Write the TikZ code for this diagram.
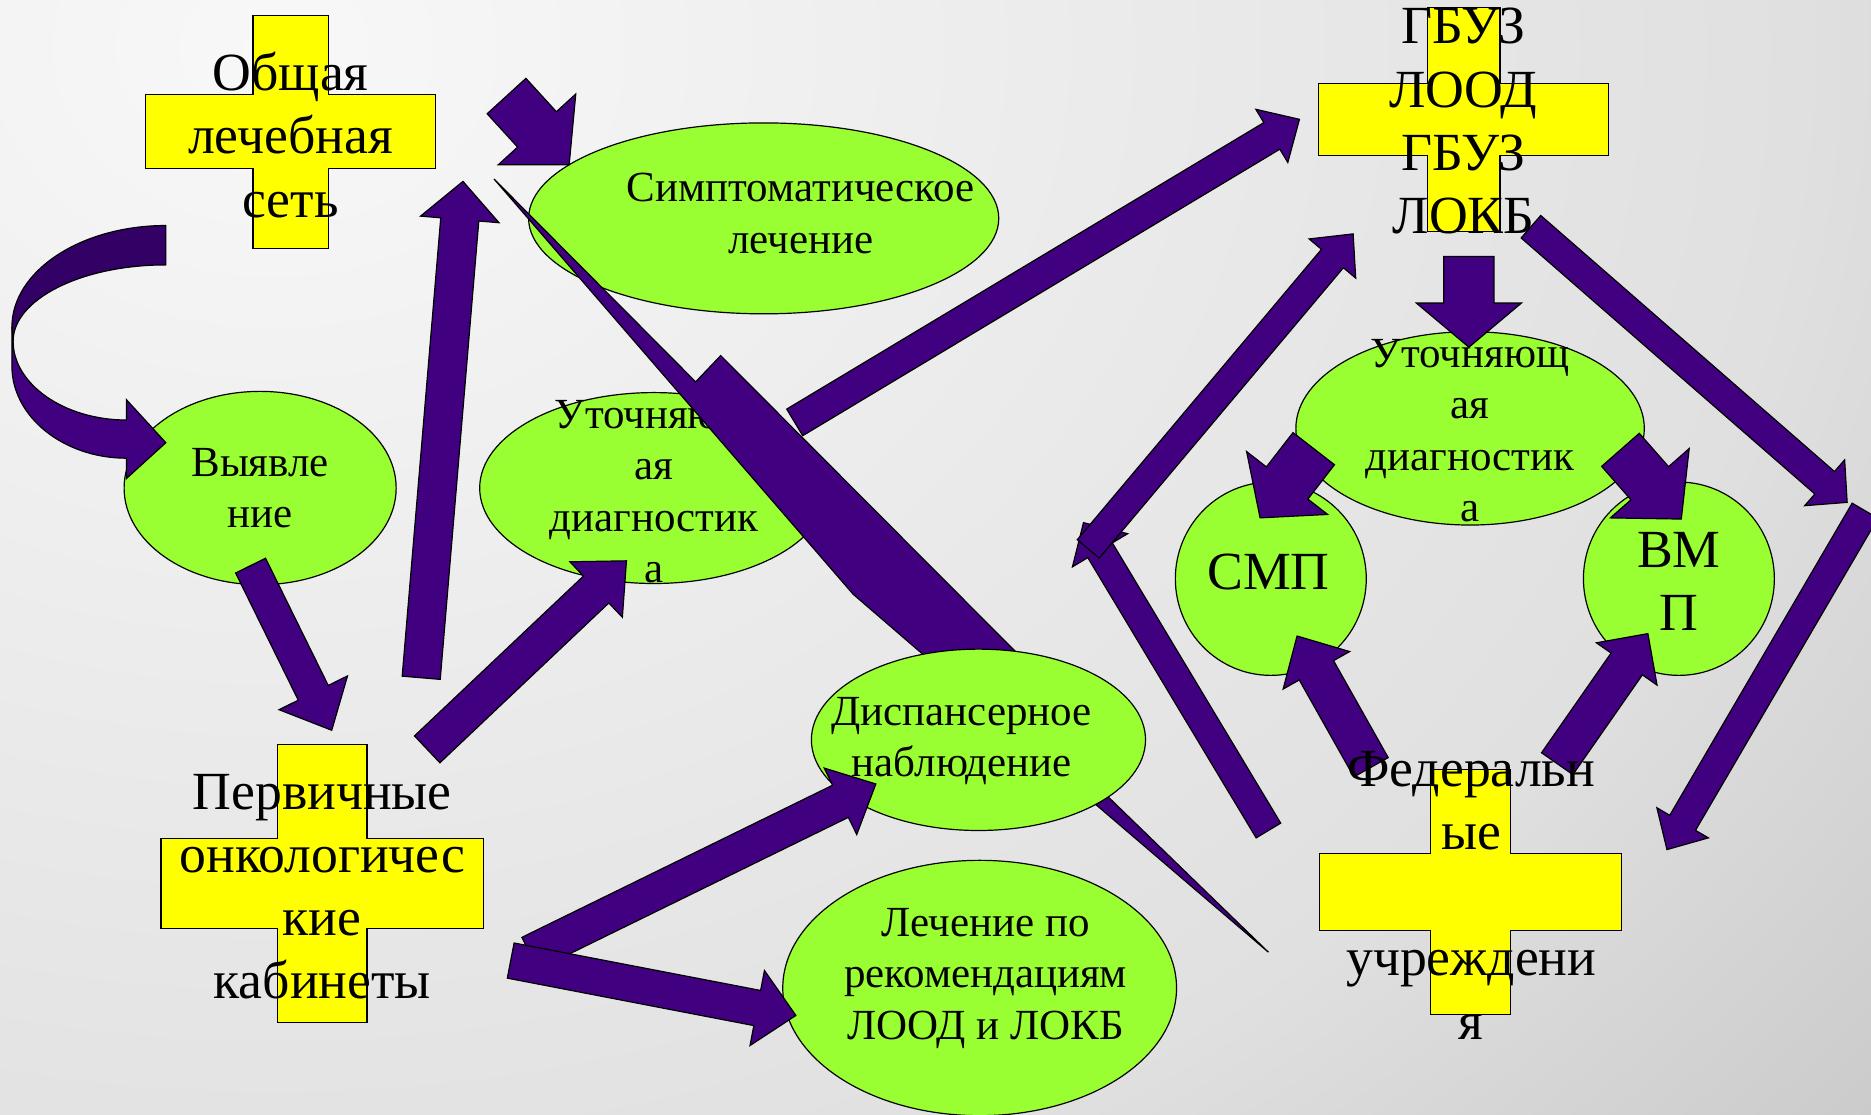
\documentclass[tikz,border=0pt]{standalone}
\usepackage{fontspec}
\setmainfont{Liberation Serif}
\newfontfamily\slidefont{Liberation Serif}
\usetikzlibrary{calc,shapes.geometric}
\definecolor{arrowviolet}{RGB}{64,0,128}
\definecolor{arrowdark}{RGB}{51,0,102}
\definecolor{ovalgreen}{RGB}{153,255,51}
\definecolor{plusyellow}{RGB}{255,255,0}
\definecolor{bgA}{RGB}{248,248,248}
\definecolor{bgB}{RGB}{224,224,224}
\definecolor{bgC}{RGB}{188,188,188}
\definecolor{bgD}{RGB}{174,174,174}
\definecolor{bgE}{RGB}{174,174,174}
\pgfdeclareradialshading{slidebg}{\pgfpoint{0bp}{0bp}}{color(0bp)=(bgA); color(16bp)=(bgB); color(26bp)=(bgC); color(33bp)=(bgD); color(50bp)=(bgE)}
\def\blockarrow[#1](#2)(#3)(#4:#5:#6){%
  \coordinate (ba-base) at ($(#3)!#6pt!(#2)$);
  \draw[#1] ($(#2)!#4pt!90:(#3)$) -- ($(ba-base)!#4pt!90:(#3)$) -- ($(ba-base)!#5pt!90:(#3)$) -- (#3) -- ($(ba-base)!#5pt!-90:(#3)$) -- ($(ba-base)!#4pt!-90:(#3)$) -- ($(#2)!#4pt!-90:(#3)$) -- cycle;}
\def\plusshape(#1)(#2:#3:#4:#5){\draw[plusfill,shift={(#1)}] (-#2,-#3) -- (#2,-#3) -- (#2,-#5) -- (#4,-#5) -- (#4,#5) -- (#2,#5) -- (#2,#3) -- (-#2,#3) -- (-#2,#5) -- (-#4,#5) -- (-#4,-#5) -- (-#2,-#5) -- cycle;}

\begin{document}
\begin{tikzpicture}[x=1pt,y=-1pt,
	oval/.style={draw=black, line width=1pt, fill=ovalgreen, ellipse, inner sep=0pt},
	ovaltext/.style={align=center, inner sep=0pt, font=\slidefont\fontsize{36}{43}\selectfont},
	bigtext/.style={align=center, inner sep=0pt, font=\slidefont\fontsize{45}{53}\selectfont},
	plusfill/.style={draw=black, line width=1pt, fill=plusyellow},
	arrowbody/.style={draw=black, line width=1pt, fill=arrowviolet},
	arrowshade/.style={draw=black, line width=1pt, fill=arrowdark}]
			%%%%% START %%%%%
			
			\path[use as bounding box] (0,0) rectangle (1568,934);
			\begin{scope}
				\clip (0,0) rectangle (1568,934);
				\shade[shading=slidebg] (230,40) ellipse (2000pt and 1600pt);
			\end{scope}
			
			\node[oval, minimum width=394pt, minimum height=160pt] (sympt) at (640,183) {};
			\node[ovaltext] (sympt-t) at ($(sympt)+(31,-4)$) {Симптоматическое\\лечение};
			\node[oval, minimum width=292pt, minimum height=160pt] (utoch1) at (548,409) {};
			\node[ovaltext] (utoch1-t) at ($(utoch1)+(0,3)$) {Уточняющ\\ая\\диагностик\\а};
			
			\draw[arrowbody] (414,150) -- (583,320) -- (604,298) -- (852,547) -- (900,640) -- (1063,798) -- (890,650) -- (773,548) -- (715,498) -- cycle;
			
			\node[oval, minimum width=228pt, minimum height=162pt] (vyyav) at (218,409) {};
			\node[ovaltext] (vyyav-t) at (vyyav) {Выявле\\ние};
			\node[oval, minimum width=280pt, minimum height=152pt] (disp) at (820,620) {};
			\node[ovaltext] (disp-t) at ($(disp)+(-14,1)$) {Диспансерное\\наблюдение};
			\node[oval, minimum width=330pt, minimum height=214pt] (lech) at (821,828) {};
			\node[ovaltext] (lech-t) at ($(lech)+(5,-8)$) {Лечение по\\рекомендациям\\ЛООД и ЛОКБ};
			\node[oval, minimum width=292pt, minimum height=162pt] (utoch2) at (1232,359) {};
			\node[ovaltext] (utoch2-t) at ($(utoch2)+(0,2)$) {Уточняющ\\ая\\диагностик\\а};
			\node[oval, minimum width=160pt, minimum height=162pt] (smp) at (1065,485) {};
			\node[bigtext] (smp-t) at ($(smp)+(-2,-6)$) {СМП};
			\node[oval, minimum width=160pt, minimum height=162pt] (vmp) at (1407,485) {};
			\node[bigtext] (vmp-t) at ($(vmp)+(0,2)$) {ВМ\\П};
			
			% curved arrow
			\draw[arrowshade] (139,189) .. controls (68,189) and (10,227) .. (10,274) -- (11,286) .. controls (11,251) and (68,222) .. (139,222) -- cycle;
			\draw[arrowbody] (10,274) -- (10,307) .. controls (10,349) and (53,384) .. (106,384) -- (106,401) -- (139,371) -- (106,335) -- (106,352) .. controls (54,352) and (11,322) .. (11,286) -- cycle;
			
			\coordinate (vy-a) at (210,474); \coordinate (vy-b) at (278,612);
			\coordinate (up-a) at (353,568); \coordinate (up-b) at (388,152);
			\coordinate (ut-a) at (358,628); \coordinate (ut-b) at (525,470);
			\coordinate (sy-a) at (424.5,80.5); \coordinate (sy-b) at (477,138);
			\coordinate (gb-a) at (666,354); \coordinate (gb-b) at (1089,100);
			\coordinate (dn-a) at (1231,215); \coordinate (dn-b) at (1231,291);
			\coordinate (sm-a) at (1101,376); \coordinate (sm-b) at (1056,434);
			\coordinate (vm-a) at (1358,377); \coordinate (vm-b) at (1409,435);
			\coordinate (rt-a) at (1283,190); \coordinate (rt-b) at (1548,421);
			\coordinate (fd-a) at (1563,428); \coordinate (fd-b) at (1397,712);
			\coordinate (fs-a) at (1149,643); \coordinate (fs-b) at (1087,533);
			\coordinate (fv-a) at (1305,640); \coordinate (fv-b) at (1381,531);
			\coordinate (lf-a) at (1063,696); \coordinate (lf-b) at (908,438);
			\coordinate (lg-a) at (912,460); \coordinate (lg-b) at (1134,196);
			\coordinate (ds-a) at (444,799); \coordinate (ds-b) at (734,657);
			\coordinate (lc-a) at (428,805); \coordinate (lc-b) at (667,851);
			
			\blockarrow[arrowbody](vy-a)(vy-b)(14:32:35);
			\blockarrow[arrowbody](up-a)(up-b)(16:33:32);
			\blockarrow[arrowbody](ut-a)(ut-b)(15.5:32:35);
			\blockarrow[arrowbody](sy-a)(sy-b)(22:44:40);
			\blockarrow[arrowbody](gb-a)(gb-b)(13:26:27);
			\blockarrow[arrowbody](dn-a)(dn-b)(21:44:37);
			\blockarrow[arrowbody](sm-a)(sm-b)(22:43:37);
			\blockarrow[arrowbody](vm-a)(vm-b)(21:44:40);
			\blockarrow[arrowbody](rt-a)(rt-b)(12.5:25.5:25);
			\blockarrow[arrowbody](fd-a)(fd-b)(12.5:25:26);
			\blockarrow[arrowbody](fs-a)(fs-b)(16.5:32:33);
			\blockarrow[arrowbody](fv-a)(fv-b)(16:31:31);
			\blockarrow[arrowbody](lf-a)(lf-b)(12:27:27);
			\blockarrow[arrowbody](lg-a)(lg-b)(12:25.5:27);
			\blockarrow[arrowbody](ds-a)(ds-b)(15:31:33);
			\blockarrow[arrowbody](lc-a)(lc-b)(15:32:33);
			
			\coordinate (c-obsh) at (243.5,110.5);
			\plusshape(c-obsh)(31.5:97.5:121.5:31);
			\node[bigtext] (obsh) at (243.5,113) {Общая\\лечебная\\сеть};
			
			\coordinate (c-gbuz) at (1226.5,100);
			\plusshape(c-gbuz)(30.5:94:121.5:30);
			\node[bigtext] (gbuz) at (1226.5,101.5) {ГБУЗ\\ЛООД\\ГБУЗ\\ЛОКБ};
			
			\coordinate (c-perv) at (270,740.5);
			\plusshape(c-perv)(37.5:116.5:135:37.5);
			\node[bigtext] (perv) at (270,743) {Первичные\\онкологичес\\кие\\кабинеты};
			
			\coordinate (c-fed) at (1232.5,747.5);
			\plusshape(c-fed)(33.5:102.5:126.5:32.5);
			\node[bigtext] (fed) at (1233,750) {Федеральн\\ые\\\mbox{}\\учреждени\\я};
			
			%%%%% END %%%%%
\end{tikzpicture}
\end{document}
